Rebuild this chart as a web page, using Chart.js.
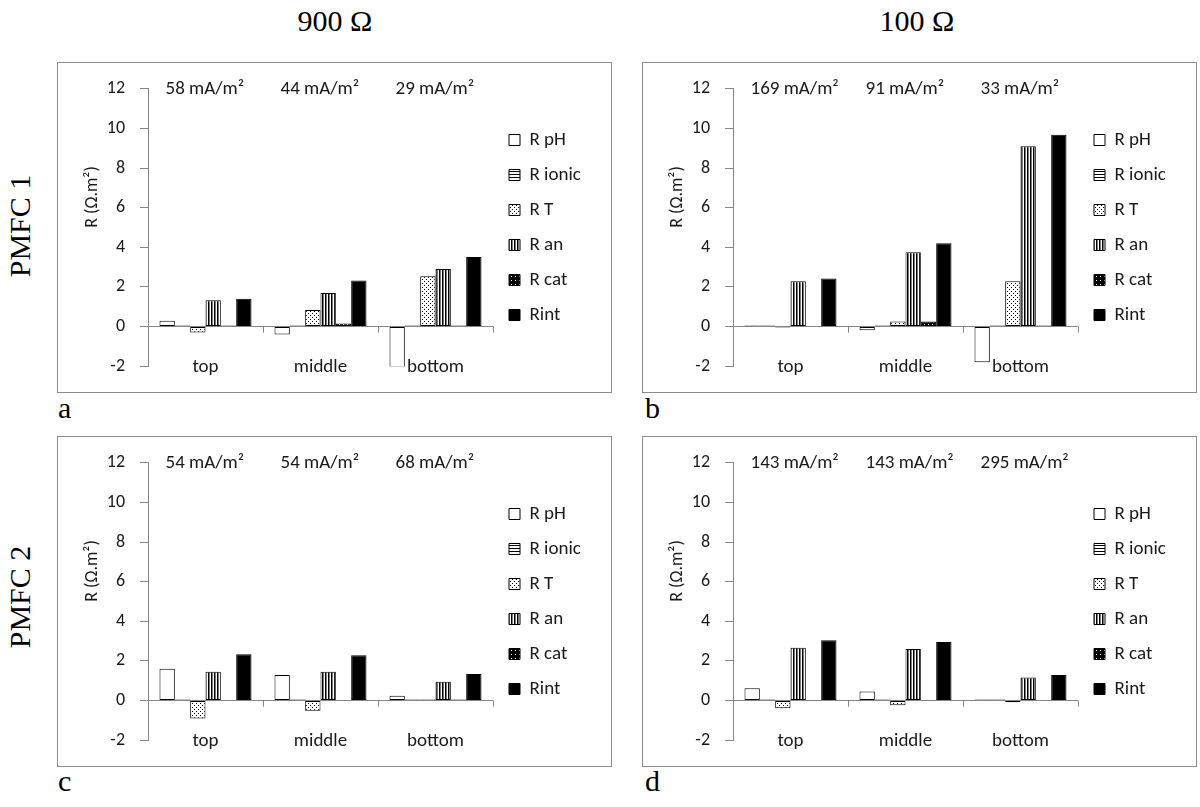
<!DOCTYPE html>
<html>
<head>
<meta charset="utf-8">
<script src="https://cdn.jsdelivr.net/npm/chart.js@4.4.0/dist/chart.umd.min.js"></script>
<style>
body { margin: 0; width: 1200px; height: 807px; background: #fff; position: relative; overflow: hidden; font-family: "Liberation Serif", serif; }
.frame { position: absolute; width: 555px; height: 331px; border: 1px solid #8c8c8c; box-sizing: border-box; }
.frame canvas { display: block; }
.big { position: absolute; font-size: 30px; line-height: 30px; color: #000; white-space: nowrap; }
.head { width: 200px; text-align: center; }
.rot { transform: rotate(-90deg); transform-origin: center center; width: 130px; text-align: center; }
</style>
</head>
<body>
<div class="big head" style="left:235px;top:6px">900 Ω</div>
<div class="big head" style="left:817px;top:6px">100 Ω</div>
<div class="big rot" style="left:-45px;top:211px">PMFC 1</div>
<div class="big rot" style="left:-45px;top:582px">PMFC 2</div>
<div class="big" style="left:58px;top:393px">a</div>
<div class="big" style="left:645px;top:393px">b</div>
<div class="big" style="left:58px;top:766px">c</div>
<div class="big" style="left:645px;top:766px">d</div>

<div class="frame" style="left:57px;top:62px"><canvas id="a" width="553" height="329"></canvas></div>
<div class="frame" style="left:642px;top:62px"><canvas id="b" width="553" height="329"></canvas></div>
<div class="frame" style="left:57px;top:436px"><canvas id="c" width="553" height="329"></canvas></div>
<div class="frame" style="left:642px;top:436px"><canvas id="d" width="553" height="329"></canvas></div>

<script>
const categories = ['top', 'middle', 'bottom'];
const seriesNames = ['R pH', 'R ionic', 'R T', 'R an', 'R cat', 'Rint'];

// a : PMFC 1, 900 ohm
const aCurrents = ['58', '44', '29'];
const aPH    = [0.3, -0.4, -2.05];
const aIonic = [0.05, 0.05, 0.05];
const aT     = [-0.3, 0.84, 2.54];
const aAn    = [1.33, 1.69, 2.9];
const aCat   = [0.05, 0.15, 0.05];
const aRint  = [1.4, 2.33, 3.51];

// b : PMFC 1, 100 ohm
const bCurrents = ['169', '91', '33'];
const bPH    = [0.05, -0.18, -1.8];
const bIonic = [0.05, 0.05, 0.05];
const bT     = [-0.05, 0.26, 2.29];
const bAn    = [2.29, 3.75, 9.1];
const bCat   = [0, 0.25, 0.05];
const bRint  = [2.43, 4.2, 9.68];

// c : PMFC 2, 900 ohm
const cCurrents = ['54', '54', '68'];
const cPH    = [1.6, 1.29, 0.24];
const cIonic = [0.05, 0.05, 0.05];
const cT     = [-0.9, -0.52, 0.05];
const cAn    = [1.45, 1.45, 0.95];
const cCat   = [0.03, 0.03, 0.05];
const cRint  = [2.34, 2.29, 1.34];

// d : PMFC 2, 100 ohm
const dCurrents = ['143', '143', '295'];
const dPH    = [0.62, 0.46, 0.05];
const dIonic = [0.05, 0.05, 0.05];
const dT     = [-0.39, -0.24, -0.08];
const dAn    = [2.67, 2.6, 1.17];
const dCat   = [0.02, 0.02, 0.03];
const dRint  = [3.04, 2.95, 1.29];

const yMin = -2, yMax = 12, yStep = 2;

const gray = '#868686';
const ink = '#1a1a1a';
const sans = 'Carlito, Lato, sans-serif';
Chart.defaults.font.family = sans;

function pattern(w, h, draw) {
  const c = document.createElement('canvas');
  c.width = w; c.height = h;
  const g = c.getContext('2d');
  g.fillStyle = '#fff';
  g.fillRect(0, 0, w, h);
  draw(g);
  return g.createPattern(c, 'repeat');
}

const fills = [
  '#ffffff',
  pattern(4, 3, g => { g.fillStyle = '#000'; g.fillRect(0, 0, 4, 1); }),
  pattern(4, 4, g => { g.fillStyle = '#000'; g.fillRect(0, 0, 1, 1); g.fillRect(2, 2, 1, 1); }),
  pattern(3, 3, g => { g.fillStyle = '#000'; g.fillRect(0, 0, 1, 3); g.fillStyle = '#7a7a7a'; g.fillRect(1, 0, 1, 3); }),
  pattern(4, 4, g => { g.fillStyle = '#000'; g.fillRect(0, 0, 4, 4); g.fillStyle = '#fff'; g.fillRect(1, 1, 1, 1); }),
  '#000000'
];

// legend width is worked out so the plot keeps the same right edge
const legendFont = 19, legendPad = 16, legendBox = 11;
const meas = document.createElement('canvas').getContext('2d');
meas.font = legendFont + 'px ' + sans;
const widest = Math.max(...seriesNames.map(s => meas.measureText(s).width));
const legendWidth = legendPad + legendBox + legendFont / 2 + widest + 10;
const padRight = Math.max(0, 118 - legendWidth);

const extras = {
  id: 'extras',
  afterDatasetsDraw(chart, args, opts) {
    const {ctx, scales: {x, y}} = chart;
    ctx.save();
    // tick marks between categories on the zero line
    const y0 = y.getPixelForValue(0);
    const step = x.width / categories.length;
    ctx.strokeStyle = gray;
    ctx.lineWidth = 1;
    for (let i = 0; i <= categories.length; i++) {
      const px = Math.round(x.left + i * step) + 0.5;
      ctx.beginPath();
      ctx.moveTo(px, y0);
      ctx.lineTo(px, y0 + 6);
      ctx.stroke();
    }
    // current density labels
    ctx.font = '19px ' + sans;
    ctx.fillStyle = ink;
    ctx.textAlign = 'left';
    ctx.textBaseline = 'middle';
    opts.values.forEach((v, i) => {
      ctx.fillText(v + ' mA/m²', x.getPixelForValue(i) - 40, y.getPixelForValue(yMax));
    });
    ctx.restore();
  }
};

function panel(id, series, currents) {
  return new Chart(document.getElementById(id), {
    type: 'bar',
    data: {
      labels: categories,
      datasets: series.map((vals, i) => ({
        label: seriesNames[i],
        data: vals,
        backgroundColor: fills[i],
        borderColor: '#000',
        borderWidth: 1,
        borderSkipped: false,
        categoryPercentage: 0.8,
        barPercentage: 1
      }))
    },
    plugins: [extras],
    options: {
      responsive: false,
      animation: false,
      layout: { padding: { top: 19, right: padRight, bottom: 0, left: 0 } },
      scales: {
        x: {
          grid: { display: false, drawTicks: false },
          border: { display: false },
          // mirrored so the labels sit inside the plot, near the -2 line
          ticks: { mirror: true, padding: -12, color: ink, font: { size: 19 } },
          afterFit(s) { s.height = 22; }
        },
        y: {
          min: yMin,
          max: yMax,
          ticks: { stepSize: yStep, padding: 15, color: ink, font: { size: 18 } },
          grid: {
            color: c => (c.tick && c.tick.value === 0) ? gray : 'rgba(0,0,0,0)',
            tickColor: gray,
            tickLength: 8
          },
          border: { color: gray },
          title: { display: true, text: '               R (Ω.m²)', color: ink, font: { size: 18 }, padding: { top: 24, bottom: 0 } },
          afterFit(s) { s.width = 90; }
        }
      },
      plugins: {
        legend: {
          position: 'right',
          align: 'center',
          fullSize: false,
          labels: { boxWidth: legendBox, boxHeight: legendBox, padding: legendPad, color: ink, font: { size: legendFont } }
        },
        tooltip: { enabled: false },
        extras: { values: currents }
      }
    }
  });
}

panel('a', [aPH, aIonic, aT, aAn, aCat, aRint], aCurrents);
panel('b', [bPH, bIonic, bT, bAn, bCat, bRint], bCurrents);
panel('c', [cPH, cIonic, cT, cAn, cCat, cRint], cCurrents);
panel('d', [dPH, dIonic, dT, dAn, dCat, dRint], dCurrents);
</script>
</body>
</html>
